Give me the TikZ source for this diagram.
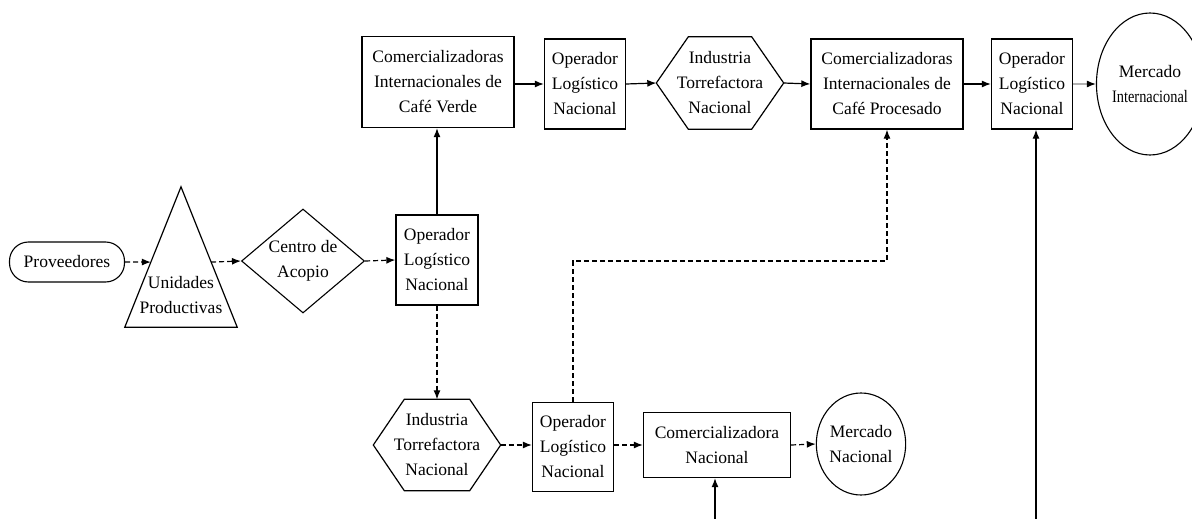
\documentclass[tikz,border=0pt]{standalone}
\usepackage{fontspec}
\setmainfont{Liberation Serif}
\usetikzlibrary{arrows.meta,shapes.geometric,calc}
\begin{document}
\begin{tikzpicture}[x=1pt,y=-1pt,
  every node/.style={font=\fontsize{17.5}{25}\selectfont, align=center, inner sep=0pt},
  box/.style={draw, line width=1.3pt, minimum width=#1},
  box/.default=82,
  invis/.style={draw=none},
  hexline/.style={draw, line width=1.2pt},
  ell/.style={draw, ellipse, line width=1.1pt},
  conn/.style={line width=1.2pt, -{Latex[length=9pt,width=7pt]}},
  dconn/.style={conn, dash pattern=on 5pt off 3pt},
  gconn/.style={conn, draw=gray!60, -{Latex[length=9pt,width=7pt,color=black]}}
]
\useasboundingbox (0,0) rectangle (1192,519);

% nodes
\node[draw, line width=1.1pt, rounded corners=19pt, minimum width=115, minimum height=40] (prov) at (67,262) {Proveedores};

\node[invis, minimum width=112, minimum height=140] (tri) at (181,257) {};
\draw[hexline] (tri.north) -- (tri.south east) -- (tri.south west) -- cycle;
\node (tritxt) at (181,295) {Unidades\\Productivas};
\coordinate (triL) at ($(tri.north)!0.536!(tri.south west)$);
\coordinate (triR) at ($(tri.north)!0.536!(tri.south east)$);

\node[draw, diamond, line width=1.1pt, aspect=1.2, minimum width=123, minimum height=104] (acop) at (303,261) {Centro de\\Acopio};

\node[box, minimum height=90] (op1) at (437,260) {Operador\\Logístico\\Nacional};
\node[box=152, minimum height=91] (cv) at (438,82) {Comercializadoras\\Internacionales de\\Café Verde};
\node[box=81, minimum height=90] (op2) at (585,84) {Operador\\Logístico\\Nacional};

\node[invis, minimum width=127, minimum height=92] (hex1) at (720,83) {Industria\\Torrefactora\\Nacional};
\draw[hexline] ([xshift=32]hex1.north west) -- ([xshift=-32]hex1.north east) -- (hex1.east)
  -- ([xshift=-32]hex1.south east) -- ([xshift=32]hex1.south west) -- (hex1.west) -- cycle;

\node[box=152, minimum height=90] (cp) at (887,84) {Comercializadoras\\Internacionales de\\Café Procesado};
\node[box=81, minimum height=90] (op3) at (1032,84) {Operador\\Logístico\\Nacional};
\node[ell, minimum width=92, minimum height=142] (mi) at (1150,84) {Mercado\\\scalebox{0.82}[1]{Internacional}};

\node[invis, minimum width=127, minimum height=91] (hex2) at (437,445) {Industria\\Torrefactora\\Nacional};
\draw[hexline] ([xshift=31]hex2.north west) -- ([xshift=-31]hex2.north east) -- (hex2.east)
  -- ([xshift=-31]hex2.south east) -- ([xshift=31]hex2.south west) -- (hex2.west) -- cycle;

\node[box=81, minimum height=89] (op4) at (573,447) {Operador\\Logístico\\Nacional};
\node[box=147, minimum height=65] (cn) at (717,445) {Comercializadora\\Nacional};
\node[ell, minimum width=82, minimum height=102] (mn) at (861,444) {Mercado\\Nacional};

\coordinate (b1) at (715,519);
\coordinate (b2) at (1036,519);
\coordinate (jog) at (887,261);

% connectors
\draw[dconn] (prov.east) -- (triL);
\draw[dconn] (triR) -- (acop.west);
\draw[dconn] (acop.east) -- (op1.west);
\draw[conn] (op1.north) -- (op1.north |- cv.south);
\draw[conn] (cv.east |- op2.west) -- (op2.west);
\draw[conn] (op2.east) -- (hex1.west);
\draw[conn] (hex1.east) -- (cp.west);
\draw[conn] (cp.east) -- (op3.west);
\draw[gconn] (op3.east) -- (mi.west);
\draw[dconn] (op1.south) -- (op1.south |- hex2.north);
\draw[dconn] (hex2.east) -- (op4.west |- hex2.east);
\draw[dconn] (op4.east |- cn.west) -- (cn.west);
\draw[dconn] (cn.east) -- (mn.west);
\draw[dconn] (op4.north) |- (jog) -- (cp.south);
\draw[conn] (b1) -- (b1 |- cn.south);
\draw[conn] (b2) -- (b2 |- op3.south);
\end{tikzpicture}
\end{document}
